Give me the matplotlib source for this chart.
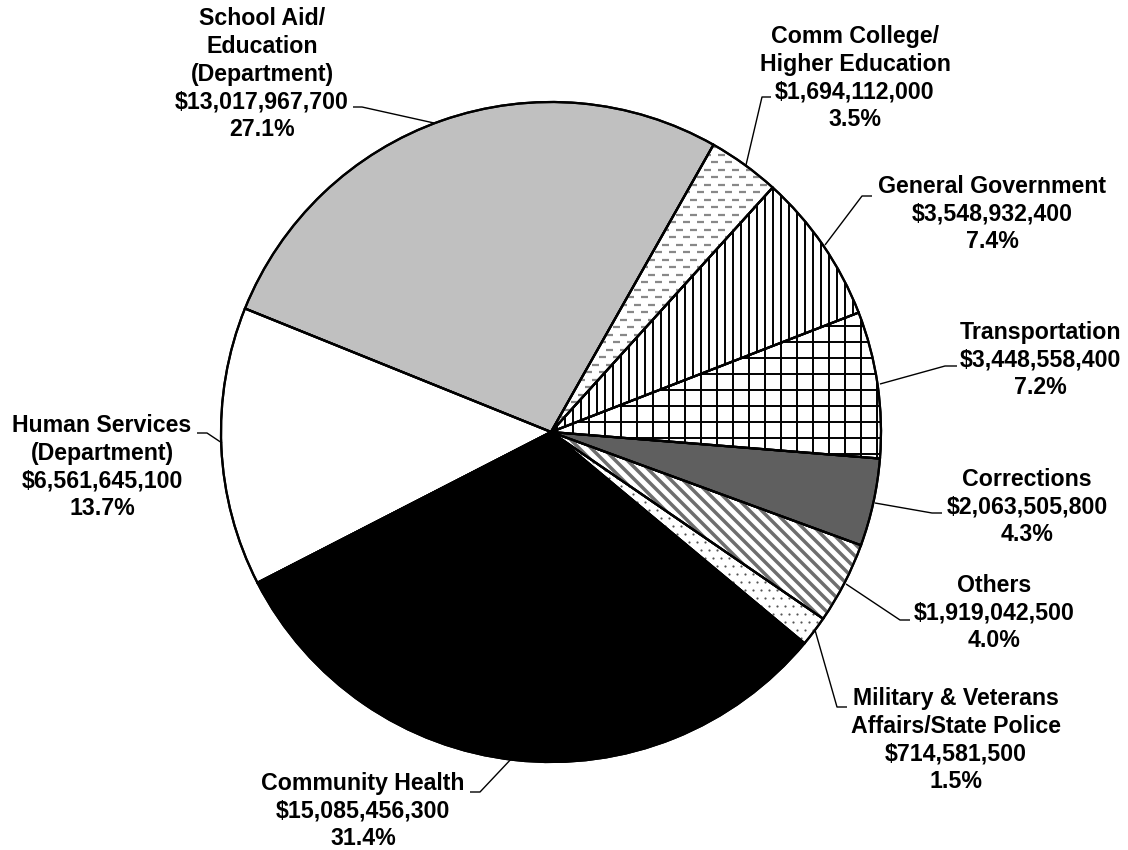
import numpy as np
import matplotlib
matplotlib.use("Agg")
import matplotlib.pyplot as plt
from matplotlib.collections import LineCollection
from matplotlib.patches import Wedge

# slices, in order counter-clockwise (on screen) from the top-right boundary
names = ["School Aid/\nEducation\n(Department)",
         "Human Services\n(Department)",
         "Community Health",
         "Military & Veterans\nAffairs/State Police",
         "Others",
         "Corrections",
         "Transportation",
         "General Government",
         "Comm College/\nHigher Education"]
values = [13017967700, 6561645100, 15085456300, 714581500, 1919042500,
          2063505800, 3448558400, 3548932400, 1694112000]
fills = ["#c0c0c0", "white", "black", "white", "white", "#5f5f5f", "white", "white", "white"]
textures = [None, None, None, "dots", "diag", None, "grid", "vert", "dash"]

# label centres and leader paths, pixel coords (y down)
label_xy = [(262, 74), (102, 467), (363, 811), (956, 740), (994, 613),
            (1027, 507), (1040, 360), (992, 214), (855, 78)]
leaders = [
    [(353, 107), (362, 107), (434, 123)],
    [(197, 433), (207, 433), (222, 443)],
    [(470, 792), (480, 792), (513, 757)],
    [(847, 707), (837, 707), (815, 630)],
    [(910, 620), (900, 620), (846, 584)],
    [(942, 513), (932, 513), (875, 503)],
    [(957, 366), (945, 366), (880, 384)],
    [(872, 196), (862, 196), (825, 245)],
    [(771, 97), (762, 97), (746, 165)],
]

W, H = 1128, 850
cx, cy, R = 551, 432, 330

fig = plt.figure(figsize=(W / 100, H / 100), dpi=100)
ax = fig.add_axes([0, 0, 1, 1])

# y axis is inverted, so counterclock=False runs counter-clockwise on screen
wedges, _ = ax.pie(values, colors=fills, startangle=-60.5, counterclock=False,
                   center=(cx, cy), radius=R,
                   wedgeprops=dict(edgecolor="black", linewidth=1.6))
ax.set_xlim(0, W)
ax.set_ylim(H, 0)
ax.set_aspect("equal")
ax.axis("off")

x0, x1, y0, y1 = cx - R, cx + R, cy - R, cy + R


def add_segs(w, segs, color, lw):
    lc = LineCollection(segs, colors=color, linewidths=lw, zorder=2)
    ax.add_collection(lc)
    lc.set_clip_path(w)


for w, tex in zip(wedges, textures):
    if tex == "vert":
        segs = [[(x, y0), (x, y1)] for x in np.arange(x0, x1, 8)]
        add_segs(w, segs, "black", 1.4)
    elif tex == "grid":
        segs = [[(x, y0), (x, y1)] for x in np.arange(x0, x1, 16)]
        segs += [[(x0, y), (x1, y)] for y in np.arange(y0, y1, 16)]
        add_segs(w, segs, "black", 1.4)
    elif tex == "dash":
        segs = []
        for i, y in enumerate(np.arange(y0, y1, 7.5)):
            for x in np.arange(x0 + (i % 2) * 7, x1, 14):
                segs.append([(x, y), (x + 7, y)])
        add_segs(w, segs, "#888888", 1.6)
    elif tex == "diag":
        segs = [[(x0, x0 + c), (x1, x1 + c)] for c in np.arange(y0 - x1, y1 - x0, 12)]
        add_segs(w, segs, "#6e6e6e", 2.5)
    elif tex == "dots":
        pts = []
        for i, y in enumerate(np.arange(y0, y1, 8)):
            for x in np.arange(x0 + (i % 2) * 4, x1, 8):
                pts.append((x, y))
        pts = np.array(pts)
        sc = ax.scatter(pts[:, 0], pts[:, 1], s=2.5, color="#555555", zorder=2, linewidths=0)
        sc.set_clip_path(w)

for w in wedges:
    ax.add_patch(Wedge(w.center, w.r, w.theta1, w.theta2, fill=False,
                       edgecolor="black", linewidth=1.6, zorder=4))

total = sum(values)
for name, val, (tx, ty), path in zip(names, values, label_xy, leaders):
    txt = f"{name}\n${val:,}\n{100 * val / total:.1f}%"
    ax.text(tx, ty, txt, ha="center", va="center", ma="center",
            fontsize=16.7, fontweight="bold", family=["Liberation Sans", "DejaVu Sans"],
            linespacing=1.27, zorder=5)
    px, py = zip(*path)
    ax.plot(px, py, color="black", lw=1.0, zorder=3, solid_capstyle="butt")

fig.savefig("out.png", dpi=100)
